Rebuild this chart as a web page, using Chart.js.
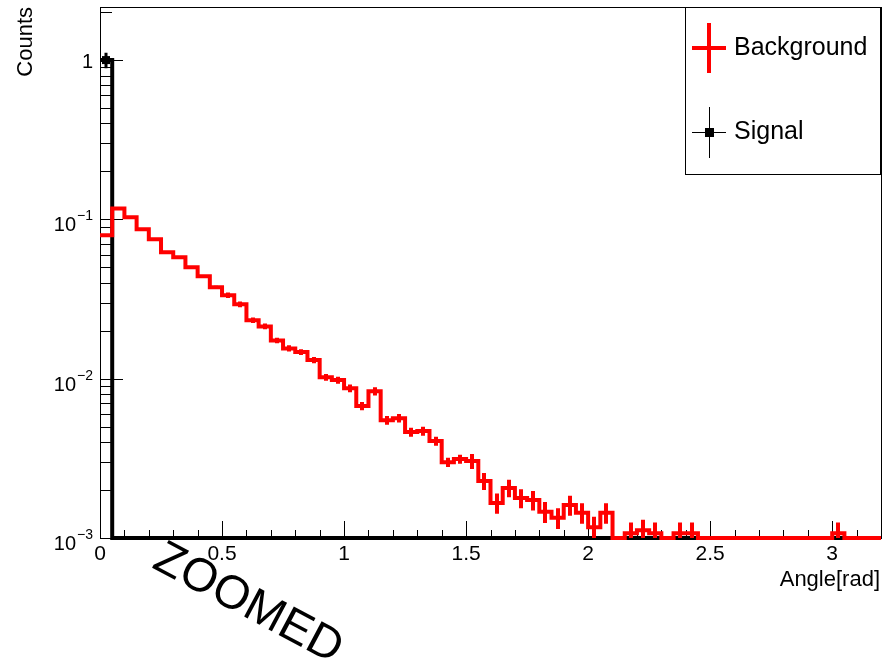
<!DOCTYPE html>
<html>
<head>
<meta charset="UTF-8">
<title>Angle distribution</title>
<script src="https://cdn.jsdelivr.net/npm/chart.js"></script>
<style>
  body { margin: 0; background: #fff; }
  canvas { display: block; }
</style>
</head>
<body>
<canvas id="angle_chart" width="888" height="666"></canvas>
<script>
// axis ranges and histogram binning (64 bins of 0.05 rad)
const xRange = [0, 3.2];
const yRange = [0.001, 2.154];
const binWidth = 0.05;

// normalised contents per bin
const backgroundCounts = [
  0.0794, 0.117, 0.103, 0.0866, 0.0750, 0.0621, 0.0578, 0.0500, 0.0439, 0.0375,
  0.0334, 0.0293, 0.0233, 0.0213, 0.0174, 0.0155, 0.0147, 0.0131, 0.0102, 0.0098,
  0.00871, 0.00673, 0.00835, 0.00549, 0.00565, 0.00462, 0.00469, 0.00406, 0.00299, 0.00313,
  0.00304, 0.00228, 0.00166, 0.00206, 0.00178, 0.00173, 0.00146, 0.00134, 0.00161, 0.00144,
  0.00117, 0.00144, 0, 0.00107, 0.00112, 0.00107, 0, 0.00107, 0.00107, 0,
  0, 0, 0, 0, 0, 0, 0, 0, 0, 0,
  0.00107, 0, 0, 0
];
const backgroundErrors = [
  0.0016, 0.0023, 0.002, 0.0017, 0.0015, 0.0012, 0.0012, 0.001, 0.0009, 0.0008,
  0.0013, 0.0012, 0.0009, 0.0009, 0.0007, 0.0007, 0.0006, 0.0006, 0.0005, 0.0005,
  0.0005, 0.0004, 0.0005, 0.00035, 0.00035, 0.0003, 0.0003, 0.00026, 0.0002, 0.0002,
  0.00033, 0.00028, 0.00024, 0.00026, 0.00024, 0.00024, 0.00022, 0.0002, 0.00023, 0.00021,
  0.00019, 0.00021, 0, 0.00018, 0.00018, 0.00018, 0, 0.00018, 0.00018, 0,
  0, 0, 0, 0, 0, 0, 0, 0, 0, 0,
  0.00018, 0, 0, 0
];
const signalCounts = [
  1, 0, 0, 0, 0, 0, 0, 0, 0, 0,
  0, 0, 0, 0, 0, 0, 0, 0, 0, 0,
  0, 0, 0, 0, 0, 0, 0, 0, 0, 0,
  0, 0, 0, 0, 0, 0, 0, 0, 0, 0,
  0, 0, 0, 0, 0, 0, 0, 0, 0, 0,
  0, 0, 0, 0, 0, 0, 0, 0, 0, 0,
  0, 0, 0, 0
];
const signalErrors = [
  0.11, 0, 0, 0, 0, 0, 0, 0, 0, 0,
  0, 0, 0, 0, 0, 0, 0, 0, 0, 0,
  0, 0, 0, 0, 0, 0, 0, 0, 0, 0,
  0, 0, 0, 0, 0, 0, 0, 0, 0, 0,
  0, 0, 0, 0, 0, 0, 0, 0, 0, 0,
  0, 0, 0, 0, 0, 0, 0, 0, 0, 0,
  0, 0, 0, 0
];

const xTickValues = [0, 0.5, 1, 1.5, 2, 2.5, 3];
const xTickLabels = ['0', '0.5', '1', '1.5', '2', '2.5', '3'];
const yTickValues = [1, 0.1, 0.01, 0.001];
const yTickLabels = [['1', ''], ['10', '\u22121'], ['10', '\u22122'], ['10', '\u22123']];
const legendLabels = ['Background', 'Signal'];
const xTitle = 'Angle[rad]';
const yTitle = 'Counts';
const stampText = 'ZOOMED';

const FONT = '"Liberation Sans", Arial, Helvetica, sans-serif';

// bin contents -> points on the bin edges for a stepped line;
// empty bins sit on the floor of the log axis
function stepPoints(counts) {
  const pts = counts.map((c, i) => ({ x: i * binWidth, y: Math.max(c, yRange[0]) }));
  pts.push({ x: counts.length * binWidth, y: pts[pts.length - 1].y });
  return pts;
}

function errorBars(ctx, x, y, counts, errors) {
  ctx.beginPath();
  counts.forEach((c, i) => {
    const e = errors[i];
    if (!c || !e) return;
    const cx = Math.round(x.getPixelForValue((i + 0.5) * binWidth));
    ctx.moveTo(cx, y.getPixelForValue(Math.max(c - e, yRange[0])));
    ctx.lineTo(cx, y.getPixelForValue(c + e));
  });
  ctx.stroke();
}

// frame, inward ticks, labels, legend
const rootStyle = {
  id: 'rootStyle',
  beforeDatasetsDraw(chart) {
    const { ctx, chartArea: a, scales: { x, y } } = chart;
    ctx.save();
    ctx.strokeStyle = '#000';
    ctx.lineWidth = 1;
    ctx.strokeRect(a.left + 0.5, a.top + 0.5, a.right - a.left, a.bottom - a.top);
    ctx.beginPath();
    for (let i = 0; i <= 32; i++) {
      const px = Math.round(x.getPixelForValue(i / 10)) + 0.5;
      const len = i % 5 === 0 ? 17 : 8;
      ctx.moveTo(px, a.bottom);
      ctx.lineTo(px, a.bottom - len);
    }
    for (let e = -3; e <= 0; e++) {
      for (let m = 1; m <= 9; m++) {
        const v = m * Math.pow(10, e);
        if (v > y.max) break;
        const py = Math.round(y.getPixelForValue(v)) + 0.5;
        ctx.moveTo(a.left, py);
        ctx.lineTo(a.left + (m === 1 ? 23 : 12), py);
      }
    }
    ctx.stroke();
    ctx.restore();
  },
  afterDatasetsDraw(chart) {
    const { ctx, scales: { x, y } } = chart;
    ctx.save();
    ctx.lineCap = 'butt';

    // signal: marker with error bar
    ctx.strokeStyle = '#000';
    ctx.lineWidth = 3;
    signalCounts.forEach((c, i) => {
      if (!c) return;
      const cx = Math.round(x.getPixelForValue((i + 0.5) * binWidth));
      const cy = y.getPixelForValue(c);
      ctx.beginPath();
      ctx.moveTo(x.getPixelForValue(i * binWidth), cy);
      ctx.lineTo(x.getPixelForValue((i + 1) * binWidth), cy);
      ctx.moveTo(cx, y.getPixelForValue(c - signalErrors[i]));
      ctx.lineTo(cx, y.getPixelForValue(c + signalErrors[i]));
      ctx.stroke();
      ctx.fillStyle = '#000';
      ctx.fillRect(cx - 4, cy - 4, 8, 8);
    });

    // background error bars
    ctx.strokeStyle = '#ff0000';
    ctx.lineWidth = 4;
    errorBars(ctx, x, y, backgroundCounts, backgroundErrors);
    ctx.restore();
  },
  afterDraw(chart) {
    const { ctx, chartArea: a, scales: { x, y } } = chart;
    ctx.save();
    ctx.fillStyle = '#000';

    // x tick labels
    ctx.font = '21px ' + FONT;
    ctx.textAlign = 'center';
    ctx.textBaseline = 'alphabetic';
    xTickValues.forEach((v, i) => {
      ctx.fillText(xTickLabels[i], x.getPixelForValue(v), a.bottom + 22);
    });

    // y tick labels, powers of ten
    ctx.textAlign = 'right';
    yTickValues.forEach((v, i) => {
      const py = y.getPixelForValue(v);
      const [base, exp] = yTickLabels[i];
      const right = a.left - 7;
      if (!exp) {
        ctx.font = '20px ' + FONT;
        ctx.fillText(base, right, py + 8);
        return;
      }
      ctx.font = '14px ' + FONT;
      const ew = ctx.measureText(exp).width;
      ctx.fillText(exp, right, py + 1);
      ctx.font = '20px ' + FONT;
      ctx.fillText(base, right - ew - 1, py + 12);
    });

    // axis titles
    ctx.font = '22px ' + FONT;
    ctx.textAlign = 'right';
    ctx.fillText(xTitle, a.right - 1, a.bottom + 48);
    ctx.save();
    ctx.translate(32, a.top);
    ctx.rotate(-Math.PI / 2);
    ctx.fillText(yTitle, 0, 0);
    ctx.restore();

    // legend box
    ctx.fillStyle = '#fff';
    ctx.fillRect(685, 7, 196, 167);
    ctx.strokeStyle = '#000';
    ctx.lineWidth = 1;
    ctx.strokeRect(685.5, 7.5, 195, 167);

    ctx.strokeStyle = '#ff0000';
    ctx.lineWidth = 4;
    ctx.beginPath();
    ctx.moveTo(692, 48); ctx.lineTo(726, 48);
    ctx.moveTo(709, 23); ctx.lineTo(709, 73);
    ctx.stroke();

    ctx.strokeStyle = '#000';
    ctx.lineWidth = 1;
    ctx.beginPath();
    ctx.moveTo(692, 132.5); ctx.lineTo(726, 132.5);
    ctx.moveTo(709.5, 107); ctx.lineTo(709.5, 158);
    ctx.stroke();
    ctx.fillStyle = '#000';
    ctx.fillRect(705, 128, 9, 9);

    ctx.font = '25px ' + FONT;
    ctx.textAlign = 'left';
    ctx.textBaseline = 'middle';
    ctx.fillText(legendLabels[0], 734, 48);
    ctx.fillText(legendLabels[1], 734, 132);

    // stamp under the axis
    ctx.save();
    ctx.translate(248, 604);
    ctx.rotate(28 * Math.PI / 180);
    ctx.font = '47px ' + FONT;
    ctx.textAlign = 'center';
    ctx.textBaseline = 'middle';
    ctx.fillText(stampText, 0, 0);
    ctx.restore();

    ctx.restore();
  }
};

new Chart(document.getElementById('angle_chart'), {
  type: 'line',
  data: {
    datasets: [
      {
        label: legendLabels[0],
        data: stepPoints(backgroundCounts),
        borderColor: '#ff0000',
        borderWidth: 4,
        stepped: true,
        pointRadius: 0,
        fill: false,
        clip: 6,
        order: 0
      },
      {
        label: legendLabels[1],
        data: stepPoints(signalCounts),
        borderColor: '#000',
        borderWidth: 4,
        stepped: true,
        pointRadius: 0,
        fill: false,
        clip: 6,
        order: 1
      }
    ]
  },
  options: {
    responsive: false,
    devicePixelRatio: 1,
    animation: false,
    layout: { padding: { left: 100, top: 7, right: 7, bottom: 128 } },
    scales: {
      x: { type: 'linear', display: false, min: xRange[0], max: xRange[1], bounds: 'data' },
      y: { type: 'logarithmic', display: false, min: yRange[0], max: yRange[1], bounds: 'data' }
    },
    plugins: {
      legend: { display: false },
      tooltip: { enabled: false }
    },
    elements: { line: { tension: 0, borderJoinStyle: 'miter' } }
  },
  plugins: [rootStyle]
});
</script>
</body>
</html>
